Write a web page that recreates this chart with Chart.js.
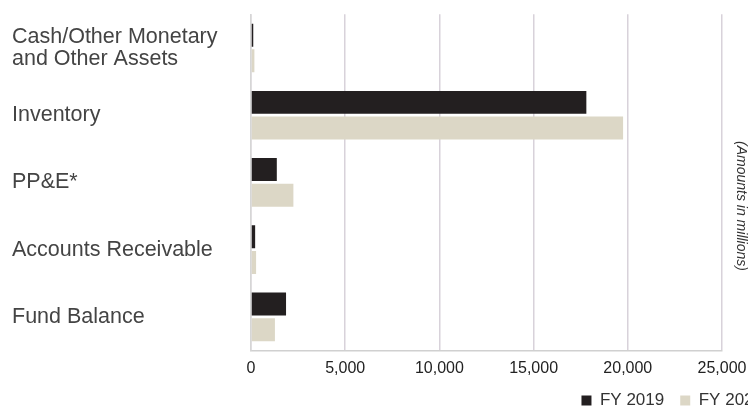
<!DOCTYPE html>
<html>
<head>
<meta charset="utf-8">
<script src="https://cdn.jsdelivr.net/npm/chart.js@4/dist/chart.umd.min.js"></script>
<style>
  html, body { margin: 0; padding: 0; background: #fff; overflow: hidden; }
  #wrap { width: 748px; height: 408px; overflow: hidden; }
</style>
</head>
<body>
<div id="wrap"><canvas id="c" width="779" height="419"></canvas></div>
<script>
const categories = [['Cash/Other Monetary', 'and Other Assets'], 'Inventory', 'PP&E*', 'Accounts Receivable', 'Fund Balance'];
const fy2019 = [120, 17800, 1370, 220, 1860];
const fy2020 = [180, 19750, 2250, 270, 1270];
const seriesNames = ['FY 2019', 'FY 2020'];
const xTicks = [0, 5000, 10000, 15000, 20000, 25000];
const unitNote = '(Amounts in millions)';

const FONT = "'Liberation Sans', Arial, Helvetica, sans-serif";
const W = 779;

const notePlugin = {
  id: 'note',
  afterDraw(chart) {
    const ctx = chart.ctx;
    ctx.save();
    ctx.translate(741, 206);
    ctx.rotate(Math.PI / 2);
    ctx.font = 'italic 14px ' + FONT;
    ctx.fillStyle = '#333';
    ctx.textAlign = 'center';
    ctx.textBaseline = 'middle';
    ctx.fillText(unitNote, 0, 0);
    ctx.restore();
  }
};

new Chart(document.getElementById('c'), {
  type: 'bar',
  data: {
    labels: categories,
    datasets: [
      { label: seriesNames[0], data: fy2019, backgroundColor: '#231f20', categoryPercentage: 0.76, barPercentage: 0.9 },
      { label: seriesNames[1], data: fy2020, backgroundColor: '#dcd7c6', categoryPercentage: 0.76, barPercentage: 0.9 }
    ]
  },
  plugins: [notePlugin],
  options: {
    indexAxis: 'y',
    responsive: false,
    animation: false,
    layout: { padding: { left: 12, top: 11, right: 0, bottom: 0 } },
    plugins: {
      legend: {
        position: 'bottom',
        align: 'end',
        labels: {
          boxWidth: 10, boxHeight: 10, padding: 16,
          color: '#333',
          font: { family: FONT, size: 17, lineHeight: 1 }
        }
      },
      tooltip: { enabled: false }
    },
    scales: {
      x: {
        min: 0, max: 25000,
        afterBuildTicks(scale) { scale.ticks = xTicks.map(v => ({ value: v })); },
        afterFit(scale) { scale.paddingRight = W - 722; scale.height = 25.5; },
        grid: { color: '#d8d2da', lineWidth: 1.5, drawTicks: false },
        border: { display: true, color: '#d0d0d0', width: 1.5 },
        ticks: {
          padding: 8, maxRotation: 0, autoSkip: false,
          color: '#222',
          font: { family: FONT, size: 16 },
          callback: v => v.toLocaleString('en-US')
        }
      },
      y: {
        afterFit(scale) { scale.width = 239; },
        grid: { display: false },
        border: { display: true, color: '#d6d6d6', width: 1.5 },
        ticks: {
          crossAlign: 'far',
          color: '#444',
          font: { family: FONT, size: 21.5, lineHeight: 1.05 }
        }
      }
    }
  }
});
</script>
</body>
</html>
